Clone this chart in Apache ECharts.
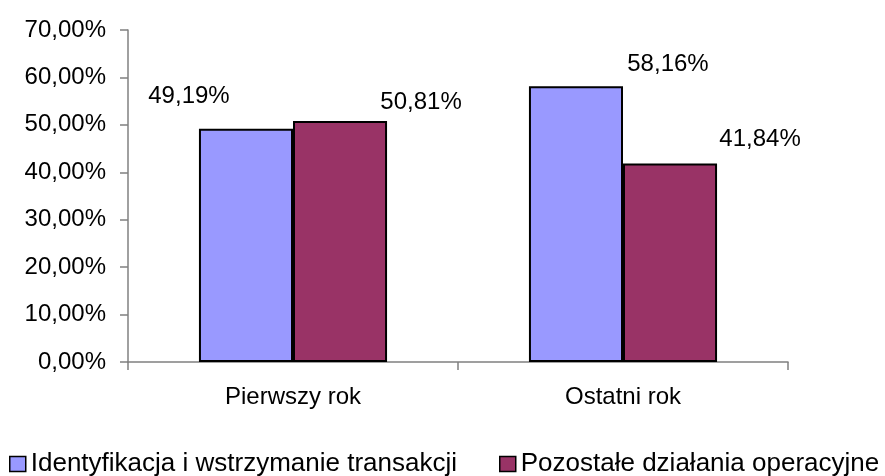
<!DOCTYPE html>
<html>
<head>
<meta charset="utf-8">
<script src="https://cdn.jsdelivr.net/npm/echarts@6/dist/echarts.min.js"></script>
<style>
  html, body { margin: 0; padding: 0; background: #fff; }
  #chart { width: 885px; height: 476px; }
</style>
</head>
<body>
<div id="chart"></div>
<script>
  let categories = ['Pierwszy rok', 'Ostatni rok']
  let seriesNames = ['Identyfikacja i wstrzymanie transakcji', 'Pozostałe działania operacyjne']
  let identyfikacja = [49.19, 58.16]
  let pozostale = [50.81, 41.84]
  let colors = ['#9999FF', '#993366']
  // label offsets mimic the spreadsheet's placement
  let labelOffsets = [[[-57, -15], [92, -5]], [[81, -2], [90, -7]]]
  let legendLefts = [9, 499]

  let fmt = v => v.toFixed(2).replace('.', ',') + '%'
  let font = 'Liberation Sans, Arial, sans-serif'

  let myChart = echarts.init(document.getElementById('chart'))
  let series = [identyfikacja, pozostale].map((values, index) => ({
    name: seriesNames[index],
    type: 'bar',
    barGap: '0%',
    barCategoryGap: '43%',
    itemStyle: { color: colors[index], borderColor: '#000', borderWidth: 2 },
    label: {
      show: true,
      position: 'top',
      color: '#000',
      fontFamily: font,
      fontSize: 24,
      formatter: p => fmt(p.value)
    },
    data: values.map((v, i) => ({ value: v, label: { offset: labelOffsets[index][i] } }))
  }))

  // one legend per entry so each sits where the original put it
  let legends = seriesNames.map((name, index) => ({
    data: [name],
    left: legendLefts[index],
    top: 451,
    padding: 0,
    icon: 'rect',
    itemWidth: 16,
    itemHeight: 15,
    itemStyle: { borderColor: '#000', borderWidth: 1.5 },
    textStyle: { color: '#000', fontFamily: font, fontSize: 26 }
  }))

  let option = {
    animation: false,
    grid: { left: 128, right: 97, top: 30, bottom: 114 },
    legend: legends,
    xAxis: {
      type: 'category',
      data: categories,
      axisLine: { lineStyle: { color: '#808080', width: 1.5 } },
      axisTick: { show: true, length: 8, lineStyle: { color: '#808080', width: 1.5 } },
      axisLabel: { color: '#000', fontFamily: font, fontSize: 24, margin: 23 }
    },
    yAxis: {
      type: 'value',
      min: 0,
      max: 70,
      interval: 10,
      axisLine: { show: true, lineStyle: { color: '#808080', width: 1.5 } },
      axisTick: { show: true, length: 8, lineStyle: { color: '#808080', width: 1.5 } },
      splitLine: { show: false },
      axisLabel: { color: '#000', fontFamily: font, fontSize: 24, margin: 22, formatter: fmt }
    },
    series: series
  }
  myChart.setOption(option)
</script>
</body>
</html>
